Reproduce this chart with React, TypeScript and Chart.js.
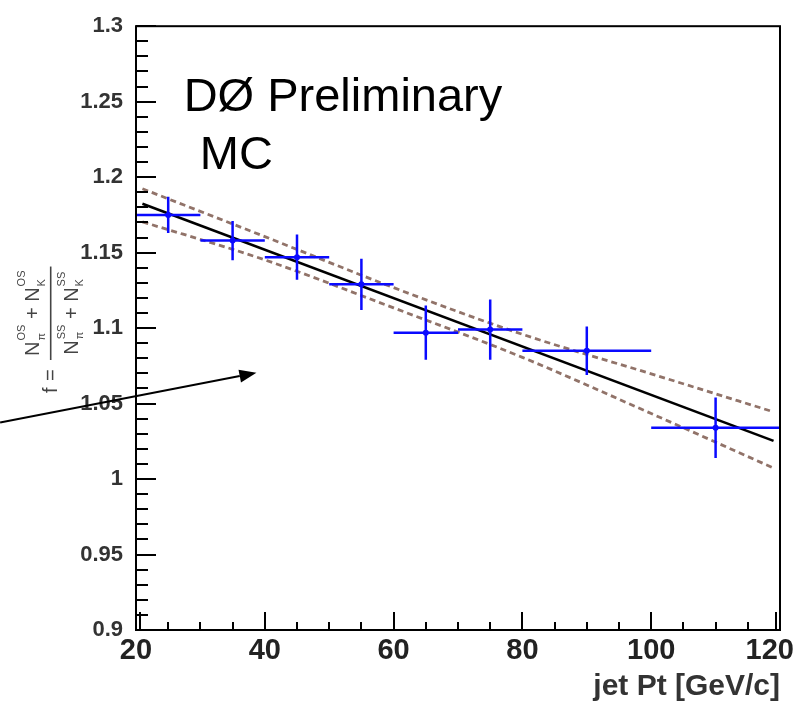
import React, { useEffect, useRef } from 'react';
import { Chart, registerables } from 'chart.js';

Chart.register(...registerables);

// ---- data ----
const ptX = [25, 35, 45, 55, 65, 75, 90, 110];
const ptY = [1.175, 1.158, 1.147, 1.129, 1.097, 1.099, 1.085, 1.034];
const ptXErr = [5, 5, 5, 5, 5, 5, 10, 10];
const ptYErr = [0.012, 0.013, 0.015, 0.017, 0.018, 0.02, 0.016, 0.02];

const fitX = [21, 119];
const fitY = [1.1824, 1.0253];

const bandX = [21, 40, 60, 80, 100, 119];
const bandUpper = [1.1923, 1.1606, 1.1268, 1.0959, 1.0697, 1.0445];
const bandLower = [1.1704, 1.1452, 1.1134, 1.0806, 1.0434, 1.0073];

const xTickValues = [20, 40, 60, 80, 100, 120];
const xTickLabels = ['20', '40', '60', '80', '100', '120'];
const yTickValues = [0.9, 0.95, 1, 1.05, 1.1, 1.15, 1.2, 1.25, 1.3];
const yTickLabels = ['0.9', '0.95', '1', '1.05', '1.1', '1.15', '1.2', '1.25', '1.3'];
const X_MINOR_STEP = 5;
const Y_MINOR_STEP = 0.01;

const xTitle = 'jet Pt [GeV/c]';
const labelLine1 = 'DØ Preliminary';
const labelLine2 = 'MC';
const label1Pos = [27.4, 1.2437];
const label2Pos = [29.9, 1.2054];
const arrowFrom = [-1.1, 1.0375];
const arrowTo = [38.7, 1.0704];

const FONT = '"Liberation Sans", Arial, Helvetica, sans-serif';
const BLUE = '#0a0aff';
const BAND = 'rgb(145,115,105)';

function drawFormula(ctx: CanvasRenderingContext2D, cx: number, cy: number) {
  ctx.save();
  ctx.translate(cx, cy);
  ctx.rotate(-Math.PI / 2);
  ctx.fillStyle = '#444';
  ctx.strokeStyle = '#444';
  ctx.textAlign = 'left';
  ctx.textBaseline = 'alphabetic';
  const big = `20px ${FONT}`;
  const small = `11px ${FONT}`;
  ctx.font = big;
  ctx.fillText('f', 2, 6);
  ctx.fillText('=', 14, 6);

  const wBig = (s: string) => { ctx.font = big; return ctx.measureText(s).width; };
  const wSmall = (s: string) => { ctx.font = small; return ctx.measureText(s).width; };
  const groupW = (sub: string, sup: string) => wBig('N') + 1 + Math.max(wSmall(sub), wSmall(sup));
  const plusW = wBig(' + ');
  const rowW = (g: string[][]) => groupW(g[0][0], g[0][1]) + plusW + groupW(g[1][0], g[1][1]);
  const num = [['π', 'OS'], ['K', 'OS']];
  const den = [['π', 'SS'], ['K', 'SS']];
  const barStart = 35;
  const L = Math.max(rowW(num), rowW(den)) + 8;

  const drawRow = (g: string[][], base: number, supB: number, subB: number) => {
    let u = barStart + (L - rowW(g)) / 2;
    g.forEach((item, idx) => {
      ctx.font = big;
      ctx.fillText('N', u, base);
      const nW = wBig('N');
      ctx.font = small;
      ctx.fillText(item[1], u + nW + 1, supB);
      ctx.fillText(item[0], u + nW + 1, subB);
      u += groupW(item[0], item[1]);
      if (idx === 0) {
        ctx.font = big;
        ctx.fillText(' + ', u, base);
        u += plusW;
      }
    });
  };
  drawRow(num, -12, -26, -6);
  drawRow(den, 27, 14, 32);

  ctx.lineWidth = 1.6;
  ctx.beginPath();
  ctx.moveTo(barStart, 0);
  ctx.lineTo(barStart + L, 0);
  ctx.stroke();
  ctx.restore();
}

const overlay = {
  id: 'overlay',
  afterDatasetsDraw(chart: any) {
    const { ctx, scales } = chart;
    const x = scales.x, y = scales.y;
    ctx.save();
    ctx.strokeStyle = BLUE;
    ctx.fillStyle = BLUE;
    ctx.lineWidth = 2.5;
    ptX.forEach((vx, i) => {
      const px = x.getPixelForValue(vx);
      const py = y.getPixelForValue(ptY[i]);
      const x0 = x.getPixelForValue(vx - ptXErr[i]);
      const x1 = x.getPixelForValue(vx + ptXErr[i]);
      const y0 = y.getPixelForValue(ptY[i] - ptYErr[i]);
      const y1 = y.getPixelForValue(ptY[i] + ptYErr[i]);
      ctx.beginPath();
      ctx.moveTo(x0, py);
      ctx.lineTo(x1, py);
      ctx.moveTo(px, y0);
      ctx.lineTo(px, y1);
      ctx.stroke();
    });
    ctx.restore();
  },
  afterDraw(chart: any) {
    const { ctx, chartArea: ca, scales } = chart;
    const x = scales.x, y = scales.y;
    ctx.save();
    // frame
    ctx.strokeStyle = '#000';
    ctx.lineWidth = 2;
    ctx.strokeRect(ca.left, ca.top, ca.right - ca.left, ca.bottom - ca.top);
    // y ticks (inside)
    ctx.beginPath();
    const yMin = yTickValues[0], yMax = yTickValues[yTickValues.length - 1];
    const nY = Math.round((yMax - yMin) / Y_MINOR_STEP);
    for (let i = 0; i <= nY; i++) {
      const v = yMin + i * Y_MINOR_STEP;
      const py = Math.round(y.getPixelForValue(v));
      const len = i % 5 === 0 ? 20 : 12;
      ctx.moveTo(ca.left, py);
      ctx.lineTo(ca.left + len, py);
    }
    // x ticks (inside)
    const xMin = xTickValues[0], xMax = xTickValues[xTickValues.length - 1];
    const nX = Math.round((xMax - xMin) / X_MINOR_STEP);
    for (let i = 0; i <= nX; i++) {
      const v = xMin + i * X_MINOR_STEP;
      let px = Math.round(x.getPixelForValue(v));
      if (i === 0) px += 4;
      if (i === nX) px -= 4;
      const len = i % 4 === 0 ? 18 : 8;
      ctx.moveTo(px, ca.bottom);
      ctx.lineTo(px, ca.bottom - len);
    }
    ctx.stroke();

    // x tick labels
    ctx.fillStyle = '#222';
    ctx.font = `bold 29px ${FONT}`;
    ctx.textAlign = 'center';
    ctx.textBaseline = 'alphabetic';
    xTickValues.forEach((v, i) => {
      const w = ctx.measureText(xTickLabels[i]).width;
      let px = x.getPixelForValue(v);
      if (px + w / 2 > chart.width - 6) px = chart.width - 6 - w / 2;
      ctx.fillText(xTickLabels[i], px, ca.bottom + 29);
    });

    // arrow
    const sx = x.getPixelForValue(arrowFrom[0]);
    const sy = y.getPixelForValue(arrowFrom[1]);
    const ex = x.getPixelForValue(arrowTo[0]);
    const ey = y.getPixelForValue(arrowTo[1]);
    const ang = Math.atan2(ey - sy, ex - sx);
    const hl = 17, hw = 6.5;
    const bx = ex - hl * Math.cos(ang), by = ey - hl * Math.sin(ang);
    ctx.strokeStyle = '#000';
    ctx.fillStyle = '#000';
    ctx.lineWidth = 2;
    ctx.beginPath();
    ctx.moveTo(sx, sy);
    ctx.lineTo(bx, by);
    ctx.stroke();
    ctx.beginPath();
    ctx.moveTo(ex, ey);
    ctx.lineTo(bx - hw * Math.sin(ang), by + hw * Math.cos(ang));
    ctx.lineTo(bx + hw * Math.sin(ang), by - hw * Math.cos(ang));
    ctx.closePath();
    ctx.fill();

    // annotation text
    ctx.fillStyle = '#000';
    ctx.font = `47px ${FONT}`;
    ctx.textAlign = 'left';
    ctx.fillText(labelLine1, x.getPixelForValue(label1Pos[0]), y.getPixelForValue(label1Pos[1]));
    ctx.fillText(labelLine2, x.getPixelForValue(label2Pos[0]), y.getPixelForValue(label2Pos[1]));
    ctx.restore();

    // y axis title (formula)
    drawFormula(ctx, 50.7, 395);
  },
};

export default function App() {
  const ref = useRef<HTMLCanvasElement | null>(null);
  useEffect(() => {
    if (!ref.current) return;
    const chart = new Chart(ref.current, {
      type: 'scatter',
      data: {
        datasets: [
          {
            type: 'scatter',
            data: ptX.map((v, i) => ({ x: v, y: ptY[i] })),
            pointRadius: 3,
            pointBackgroundColor: BLUE,
            pointBorderColor: BLUE,
            pointBorderWidth: 0,
            showLine: false,
          },
          {
            type: 'line',
            data: fitX.map((v, i) => ({ x: v, y: fitY[i] })),
            borderColor: '#000',
            borderWidth: 2.6,
            pointRadius: 0,
            fill: false,
          },
          {
            type: 'line',
            data: bandX.map((v, i) => ({ x: v, y: bandUpper[i] })),
            borderColor: BAND,
            borderWidth: 2.8,
            borderDash: [6, 4],
            pointRadius: 0,
            cubicInterpolationMode: 'monotone',
            fill: false,
          },
          {
            type: 'line',
            data: bandX.map((v, i) => ({ x: v, y: bandLower[i] })),
            borderColor: BAND,
            borderWidth: 2.8,
            borderDash: [6, 4],
            pointRadius: 0,
            cubicInterpolationMode: 'monotone',
            fill: false,
          },
        ] as any,
      },
      options: {
        animation: false,
        responsive: false,
        layout: { padding: { top: 21, right: 20, left: 0, bottom: 0 } },
        plugins: { legend: { display: false }, tooltip: { enabled: false } },
        scales: {
          x: {
            type: 'linear',
            min: xTickValues[0],
            max: xTickValues[xTickValues.length - 1],
            grid: { display: false, drawTicks: false, tickLength: 0 },
            border: { display: false },
            ticks: { display: false },
            title: {
              display: true,
              text: xTitle,
              align: 'end',
              color: '#333',
              font: { family: FONT, size: 30, weight: 'bold' },
              padding: { top: 0, bottom: 0 },
            },
            afterFit: (s: any) => { s.height = 75; },
          },
          y: {
            type: 'linear',
            min: yTickValues[0],
            max: yTickValues[yTickValues.length - 1],
            grid: { display: false, drawTicks: false, tickLength: 0 },
            border: { display: false },
            afterBuildTicks: (s: any) => { s.ticks = yTickValues.map((v) => ({ value: v })); },
            ticks: {
              padding: 13,
              color: '#333',
              font: { family: FONT, size: 22, weight: 'bold' },
              callback: (_v: any, i: number) => yTickLabels[i],
            },
            afterFit: (s: any) => { s.width = 136; },
          },
        },
      } as any,
      plugins: [overlay],
    });
    return () => chart.destroy();
  }, []);
  return (
    <div style={{ position: 'fixed', left: 0, top: 0, width: 800, height: 705, background: '#fff' }}>
      <canvas ref={ref} width={800} height={705} style={{ display: 'block' }} />
    </div>
  );
}
